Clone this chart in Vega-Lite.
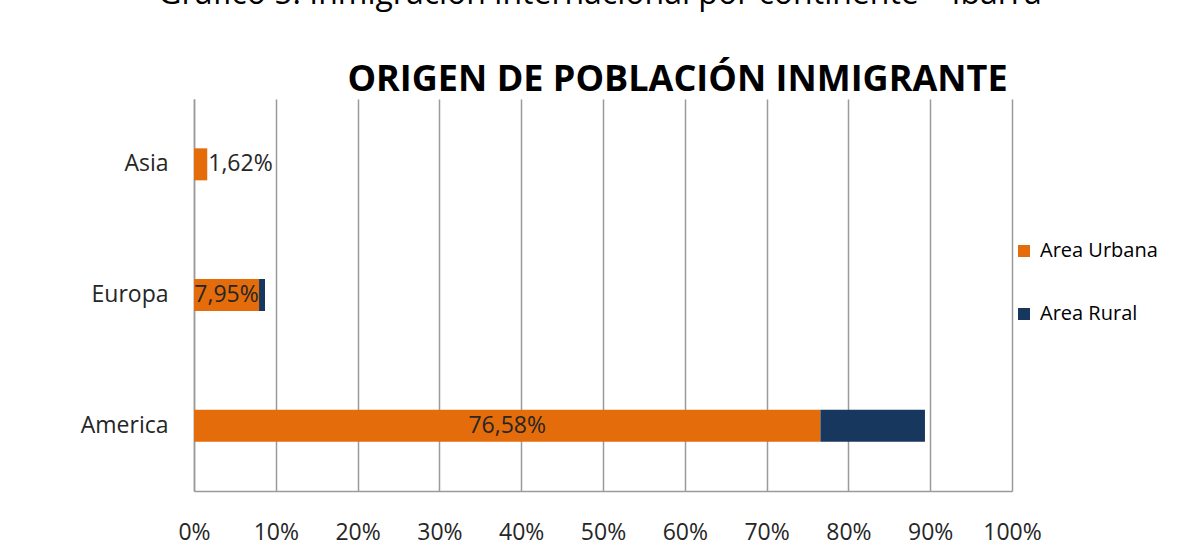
{
  "$schema": "https://vega.github.io/schema/vega-lite/v6.json",
  "autosize": "none",
  "width": 818,
  "height": 392,
  "padding": {"left": 194, "top": 99, "right": 167, "bottom": 65},
  "background": "white",
  "title": {
    "text": "Gráfico 5: Inmigración internacional por continente – Ibarra",
    "anchor": "middle",
    "frame": "group",
    "font": "Open Sans",
    "fontSize": 32,
    "fontWeight": "normal",
    "color": "#000000",
    "baseline": "alphabetic",
    "offset": 25,
    "dx": -3
  },
  "data": {
    "values": [
      {"Continente": "Asia", "Area": "Area Urbana", "Porcentaje": 0.0162},
      {"Continente": "Asia", "Area": "Area Rural", "Porcentaje": 0.0},
      {"Continente": "Europa", "Area": "Area Urbana", "Porcentaje": 0.0795},
      {"Continente": "Europa", "Area": "Area Rural", "Porcentaje": 0.0073},
      {"Continente": "America", "Area": "Area Urbana", "Porcentaje": 0.7658},
      {"Continente": "America", "Area": "Area Rural", "Porcentaje": 0.1278}
    ]
  },
  "encoding": {
    "y": {
      "field": "Continente",
      "type": "nominal",
      "sort": ["Asia", "Europa", "America"],
      "scale": {"paddingInner": 0.755, "paddingOuter": 0.3775},
      "axis": {
        "title": null,
        "ticks": false,
        "labelPadding": 26,
        "labelFontSize": 23,
        "labelColor": "#262626",
        "domainColor": "#9a9a9a",
        "domainWidth": 1.5
      }
    }
  },
  "layer": [
    {
      "mark": {"type": "bar"},
      "encoding": {
        "x": {
          "field": "Porcentaje",
          "type": "quantitative",
          "stack": "zero",
          "scale": {"domain": [0, 1], "nice": false},
          "axis": {
            "orient": "bottom",
            "title": null,
            "format": ".0%",
            "values": [0, 0.1, 0.2, 0.3, 0.4, 0.5, 0.6, 0.7, 0.8, 0.9, 1],
            "ticks": false,
            "labelOverlap": false,
            "labelPadding": 30,
            "labelFontSize": 23,
            "labelColor": "#262626",
            "labelFlush": false,
            "grid": true,
            "gridColor": "#9a9a9a",
            "gridWidth": 1.5,
            "domainColor": "#9a9a9a",
            "domainWidth": 1.5
          }
        },
        "color": {
          "field": "Area",
          "type": "nominal",
          "scale": {"domain": ["Area Urbana", "Area Rural"], "range": ["#E46C0A", "#17375E"]},
          "legend": {
            "title": null,
            "orient": "none",
            "legendX": 820,
            "legendY": 142,
            "symbolType": "square",
            "symbolSize": 144,
            "symbolStrokeWidth": 0,
            "labelFontSize": 20,
            "labelColor": "#000000",
            "labelOffset": 6,
            "rowPadding": 43,
            "padding": 0
          }
        },
        "order": {"field": "Area", "sort": "descending"}
      }
    },
    {
      "transform": [
        {"filter": "datum.Area === 'Area Urbana' && datum.Porcentaje >= 0.05"}
      ],
      "mark": {"type": "text", "fontSize": 23, "color": "#262626", "align": "center", "baseline": "middle"},
      "encoding": {
        "x": {
          "field": "Porcentaje",
          "type": "quantitative",
          "stack": "zero",
          "bandPosition": 0.5,
          "axis": {
            "orient": "top",
            "title": "ORIGEN DE POBLACIÓN INMIGRANTE",
            "labels": false,
            "ticks": false,
            "domain": false,
            "grid": false,
            "titleFont": "Open Sans",
            "titleFontSize": 36,
            "titleFontWeight": "bold",
            "titleColor": "#000000",
            "titleAnchor": "start",
            "titleAlign": "center",
            "titleBaseline": "alphabetic",
            "titleX": 483,
            "titleY": -9
          }
        },
        "text": {"field": "Porcentaje", "type": "quantitative", "format": ".2%"}
      }
    },
    {
      "transform": [
        {"filter": "datum.Area === 'Area Urbana' && datum.Porcentaje < 0.05"}
      ],
      "mark": {"type": "text", "fontSize": 23, "color": "#262626", "align": "left", "baseline": "middle", "dx": 1},
      "encoding": {
        "x": {"field": "Porcentaje", "type": "quantitative", "axis": null},
        "text": {"field": "Porcentaje", "type": "quantitative", "format": ".2%"}
      }
    }
  ],
  "resolve": {"axis": {"x": "independent"}},
  "config": {
    "font": "Open Sans",
    "view": {"stroke": null},
    "locale": {
      "number": {"decimal": ",", "thousands": ".", "grouping": [3], "currency": ["", " €"]}
    }
  }
}
